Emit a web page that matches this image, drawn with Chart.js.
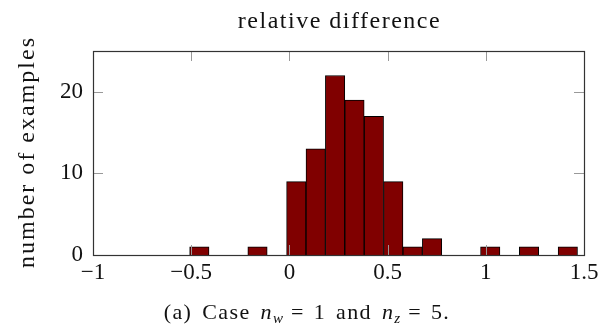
<!DOCTYPE html>
<html>
<head>
<meta charset="utf-8">
<script src="https://cdn.jsdelivr.net/npm/chart.js@4/dist/chart.umd.min.js"></script>
<style>
  html, body { margin: 0; padding: 0; background: #fff; }
  #wrap { position: relative; width: 614px; height: 332px; }
  #c { position: absolute; left: 0; top: 0; }
  #caption {
    position: absolute; left: 0; width: 614px; top: 301px;
    text-align: center; font-family: "Liberation Serif", "DejaVu Serif", serif;
    font-size: 22px; color: #111; line-height: 22px; letter-spacing: 1.4px; word-spacing: 3px;
    white-space: nowrap;
  }
  #caption sub { font-size: 15px; vertical-align: -4px; line-height: 0; letter-spacing: 0; }
  #caption .eq { margin: 0 9px 0 8px; }
</style>
</head>
<body>
<div id="wrap">
  <canvas id="c" width="614" height="332"></canvas>
  <div id="caption">(a) Case <i>n</i><sub><i>w</i></sub><span class="eq">=</span>1 and <i>n</i><sub><i>z</i></sub><span class="eq">=</span>5.</div>
</div>
<script>
// Histogram bin centers (20 bins from about -0.508 to 1.467)
const binCenters = [-0.4586, -0.3599, -0.2611, -0.1624, -0.0636, 0.0351, 0.1339, 0.2326, 0.3314, 0.4301,
                    0.5289, 0.6276, 0.7264, 0.8251, 0.9239, 1.0226, 1.1214, 1.2201, 1.3189, 1.4176];
// Counts per bin
const counts = [1, 0, 0, 1, 0, 9, 13, 22, 19, 17, 9, 1, 2, 0, 0, 1, 0, 1, 0, 1];
// Tick values / labels
const xTickValues = [-1, -0.5, 0, 0.5, 1, 1.5];
const xTickLabels = ["\u22121", "\u22120.5", "0", "0.5", "1", "1.5"];
const yTickValues = [0, 10, 20];
const yTickLabels = ["0", "10", "20"];
const chartTitle = 'relative difference';
const yAxisTitle = 'number of examples';

const serif = '"Liberation Serif", "DejaVu Serif", serif';

const framePlugin = {
  id: 'frame',
  afterDatasetsDraw(chart) {
    const {ctx, chartArea: a, scales} = chart;
    ctx.save();
    const tl = 10;
    ctx.strokeStyle = '#999';
    ctx.lineWidth = 1;
    ctx.beginPath();
    scales.x.ticks.forEach(t => {
      const px = Math.round(scales.x.getPixelForValue(t.value)) + 0.5;
      ctx.moveTo(px, a.bottom); ctx.lineTo(px, a.bottom - tl);
      ctx.moveTo(px, a.top); ctx.lineTo(px, a.top + tl);
    });
    scales.y.ticks.forEach(t => {
      const py = Math.round(scales.y.getPixelForValue(t.value)) + 0.5;
      ctx.moveTo(a.left, py); ctx.lineTo(a.left + tl, py);
      ctx.moveTo(a.right, py); ctx.lineTo(a.right - tl, py);
    });
    ctx.stroke();
    ctx.strokeStyle = '#333';
    ctx.lineWidth = 1.2;
    ctx.strokeRect(Math.round(a.left) + 0.5, Math.round(a.top) + 0.5,
                   Math.round(a.right - a.left), Math.round(a.bottom - a.top));
    ctx.restore();
  },
  afterDraw(chart) {
    const {ctx, chartArea: a} = chart;
    ctx.save();
    ctx.fillStyle = '#111';
    ctx.font = '24px ' + serif;
    ctx.textAlign = 'center';
    ctx.textBaseline = 'alphabetic';
    ctx.letterSpacing = '1.5px';
    ctx.fillText(chartTitle, (a.left + a.right) / 2 + 1, 28);
    ctx.letterSpacing = '2px';
    ctx.translate(34, (a.top + a.bottom) / 2);
    ctx.rotate(-Math.PI / 2);
    ctx.fillText(yAxisTitle, 1, 0);
    ctx.restore();
  }
};

new Chart(document.getElementById('c'), {
  type: 'bar',
  data: {
    datasets: [{
      data: binCenters.map((x, i) => ({x: x, y: counts[i]})),
      backgroundColor: '#800000',
      borderColor: '#000',
      borderWidth: 1,
      barPercentage: 1,
      categoryPercentage: 1
    }]
  },
  options: {
    responsive: false,
    animation: false,
    events: [],
    layout: { padding: { left: 0, right: 30, top: 51, bottom: 37 } },
    plugins: {
      legend: { display: false },
      tooltip: { enabled: false },
      title: { display: false }
    },
    scales: {
      x: {
        type: 'linear',
        min: -1, max: 1.5,
        offset: false,
        grid: { display: false, drawTicks: false },
        border: { display: false },
        afterBuildTicks: s => { s.ticks = xTickValues.map(v => ({value: v})); },
        afterFit: s => { s.height = 40; },
        ticks: {
          color: '#111',
          padding: 4,
          maxRotation: 0,
          autoSkip: false,
          font: { family: serif, size: 23 },
          callback: (v) => { const i = xTickValues.indexOf(v); return i >= 0 ? xTickLabels[i] : ''; }
        }
      },
      y: {
        min: 0, max: 25,
        grid: { display: false, drawTicks: false },
        border: { display: false },
        afterBuildTicks: s => { s.ticks = yTickValues.map(v => ({value: v})); },
        afterFit: s => { s.width = 93; },
        title: { display: false },
        ticks: {
          color: '#111',
          padding: 10,
          autoSkip: false,
          font: { family: serif, size: 23 },
          callback: (v) => { const i = yTickValues.indexOf(v); return i >= 0 ? yTickLabels[i] : ''; }
        }
      }
    }
  },
  plugins: [framePlugin]
});
</script>
</body>
</html>
